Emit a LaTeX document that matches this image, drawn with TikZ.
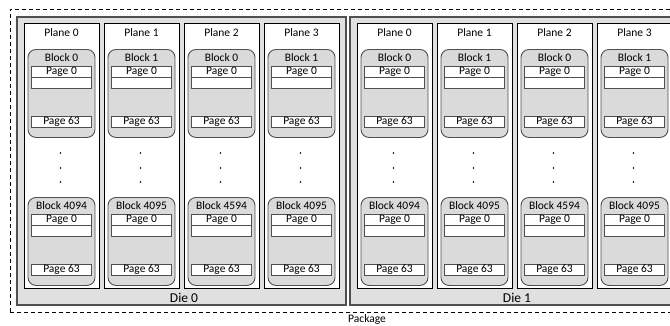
\documentclass[tikz,border=0pt]{standalone}
\usepackage{fontspec}
\setmainfont{Carlito}
\usepackage{xcolor}
\usepackage{tikz}
\usetikzlibrary{positioning}
\definecolor{dieFill}{RGB}{224,224,224}
\definecolor{blockFill}{RGB}{218,218,218}
\definecolor{edgeGray}{RGB}{80,80,80}

\begin{document}
\begin{tikzpicture}[
    x=1pt,y=-1pt,
    node distance=0pt,
    pkg/.style={draw=black,dashed,dash pattern=on 4pt off 3pt,line width=0.9pt,
      minimum width=714pt,minimum height=303pt,inner sep=0pt},
    die/.style={draw=edgeGray,fill=dieFill,line width=1.3pt,
      minimum width=329pt,minimum height=288pt,inner sep=0pt},
    plane/.style={draw=black,fill=white,line width=1pt,
      minimum width=75pt,minimum height=265pt,inner sep=0pt},
    blk/.style={draw=edgeGray,fill=blockFill,line width=0.9pt,rounded corners=8pt,
      minimum width=67pt,minimum height=88pt,inner sep=0pt},
    page/.style={draw=edgeGray,fill=white,line width=0.7pt,
      minimum width=60pt,minimum height=11pt,inner sep=0pt,
      font=\fontsize{11.5}{11.5}\selectfont},
    lbl/.style={font=\fontsize{11.5}{12}\selectfont,inner sep=0pt},
    dielbl/.style={font=\fontsize{13.5}{14}\selectfont,inner sep=0pt},
    dot/.style={circle,fill=black,inner sep=0pt,minimum size=1.6pt}
  ]
    \useasboundingbox (0,0) rectangle (670,325);
    \clip (0,0) rectangle (670,325);
    \node[pkg] (package) at (367,160.5) {};
    \node[lbl] (pkglabel) at (367,319) {Package};
    \foreach \d/\dx in {0/0,1/333} {
      \node[die] (die\d) at (181.5+\dx,161) {};
      \node[dielbl] (dielabel\d) at (184+\dx,298) {Die \d};
      \foreach \p/\first/\last in {0/0/4094,1/1/4095,2/0/4594,3/1/4095} {
        \pgfmathsetmacro\cx{61.5+80*\p+\dx}
        \node[plane] (d\d p\p) at (\cx,155.5) {};
        \node[lbl] (d\d p\p title) at (\cx,33) {Plane \p};
        % two blocks per plane, the rest left out
        \foreach \b/\num/\dy in {top/\first/0,bot/\last/148} {
          \node[blk,anchor=north] (d\d p\p\b) at (\cx,49+\dy) {};
          \node[lbl] (d\d p\p\b name) at (\cx,57.5+\dy) {Block \num};
          \node[page,anchor=north] (d\d p\p\b pg0) at (\cx,65.5+\dy) {Page 0};
          \node[page,below=of d\d p\p\b pg0] (d\d p\p\b pg1) {};
          \node[page,anchor=north] (d\d p\p\b pg63) at (\cx,115.5+\dy) {Page 63};
        }
        \node[dot] (d\d p\p dota) at (\cx-1,153) {};
        \node[dot] (d\d p\p dotb) at (\cx-1,168) {};
        \node[dot] (d\d p\p dotc) at (\cx-1,182) {};
      }
    }
  \end{tikzpicture}
\end{document}
